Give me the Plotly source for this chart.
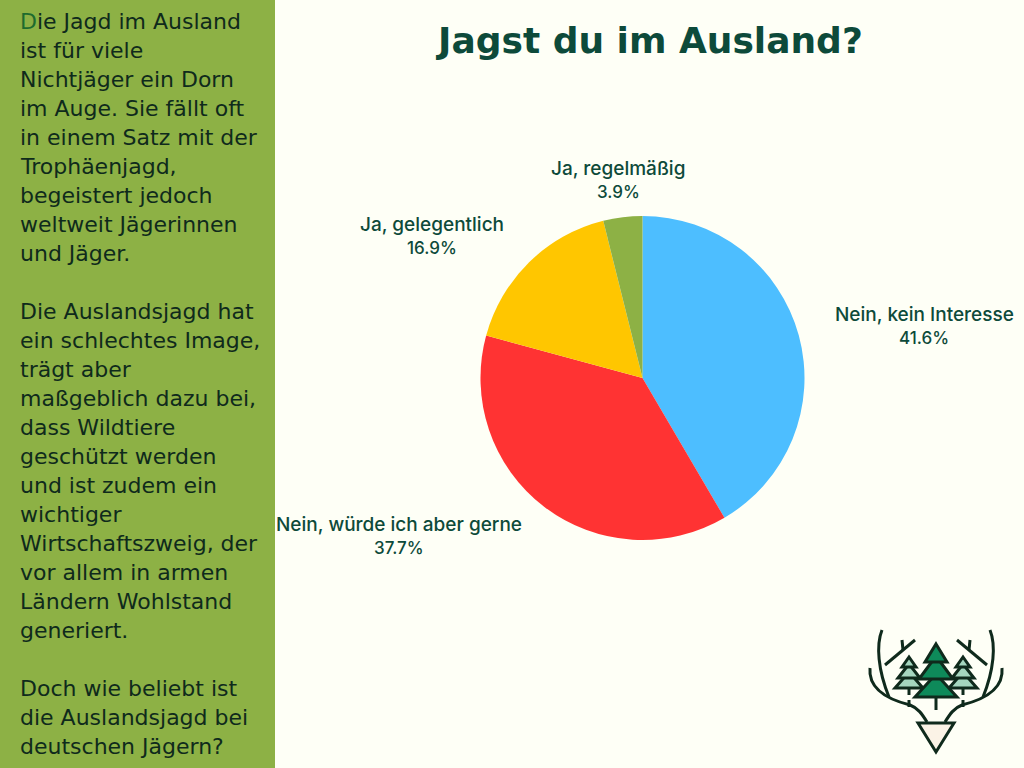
import plotly.graph_objects as go

W = 1024
H = 768

# Werte aus dem Bild
labels = ["Nein, kein Interesse", "Nein, würde ich aber gerne", "Ja, gelegentlich", "Ja, regelmäßig"]
values = [41.6, 37.7, 16.9, 3.9]
colors = ["#4DBEFF", "#FF3333", "#FFC600", "#8DB145"]
label_x = [924, 399, 432, 618]
label_y = [314, 524, 224, 168]

title = "Jagst du im Ausland?"
side_lines = [
    "<span style='color:#1E6B2E'>D</span>ie Jagd im Ausland", "ist für viele", "Nichtjäger ein Dorn",
    "im Auge. Sie fällt oft", "in einem Satz mit der", "Trophäenjagd,", "begeistert jedoch",
    "weltweit Jägerinnen", "und Jäger.", "",
    "Die Auslandsjagd hat", "ein schlechtes Image,", "trägt aber", "maßgeblich dazu bei,",
    "dass Wildtiere", "geschützt werden", "und ist zudem ein", "wichtiger",
    "Wirtschaftszweig, der", "vor allem in armen", "Ländern Wohlstand", "generiert.", "",
    "Doch wie beliebt ist", "die Auslandsjagd bei", "deutschen Jägern?",
]

BG = "#FEFFF6"
GREEN = "#8DB145"
DARK = "#0D4A3A"
INK = "#0F2A1C"
FONT = "DejaVu Sans"


def px(x):
    return x / W


def py(y):
    return 1 - y / H


def path(points, close=False):
    # Punkte in Pixeln -> SVG-Pfad in paper-Koordinaten
    out = []
    for cmd, *pts in points:
        out.append(cmd + " ".join(f"{px(a):.5f},{py(b):.5f}" for a, b in pts))
    return " ".join(out) + (" Z" if close else "")


def tri(x, top, half, base):
    return path([("M", (x, top)), ("L", (x + half, base)), ("L", (x - half, base))], close=True)


fig = go.Figure()
fig.add_trace(go.Pie(
    labels=labels, values=values, sort=False, direction="clockwise", rotation=0,
    marker=dict(colors=colors, line=dict(width=0)),
    textinfo="none", showlegend=False,
    domain=dict(x=[480.5 / W, 804.5 / W], y=[1 - 540 / H, 1 - 216 / H]),
))

shapes = [dict(type="rect", xref="paper", yref="paper", x0=0, x1=275 / W, y0=0, y1=1,
               fillcolor=GREEN, line=dict(width=0), layer="below")]


def add(p, fill="rgba(0,0,0,0)", lw=3):
    shapes.append(dict(type="path", xref="paper", yref="paper", path=p, fillcolor=fill,
                       line=dict(color=INK, width=lw)))


# Geweih, beide Seiten gespiegelt um x=936
for s in (-1, 1):
    mx = lambda d: 936 + s * d
    add(path([("M", (mx(66), 668)), ("C", (mx(68), 690), (mx(46), 700), (mx(26), 705)),
              ("C", (mx(18), 708), (mx(14), 714), (mx(9), 722))]))
    add(path([("M", (mx(54), 630)), ("C", (mx(60), 645), (mx(58), 670), (mx(47), 697))]))
    add(path([("M", (mx(51), 665)), ("L", (mx(21), 640))]))
    add(path([("M", (mx(34), 640)), ("L", (mx(33), 650))]))
    # Seitenbaum
    x = mx(27)
    add(path([("M", (x, 688)), ("L", (x, 695))]))
    add(path([("M", (x, 700)), ("L", (x, 707))]))
    add(tri(x, 672, 14, 688), fill="#A5D6BF")
    add(tri(x, 664, 11, 678), fill="#A5D6BF")
    add(tri(x, 657, 7, 667), fill="#A5D6BF")

# Grosser Baum
add(path([("M", (936, 696)), ("L", (936, 710))]))
add(tri(936, 674, 21, 697), fill="#0E8A5A")
add(tri(936, 656, 17, 679), fill="#0E8A5A")
add(tri(936, 644, 11, 662), fill="#0E8A5A")
# Kopf
add(path([("M", (918, 723)), ("L", (954, 723)), ("L", (936, 752))], close=True), fill="#FBF3E6")

anns = [dict(text=title, x=649 / W, y=py(41), xref="paper", yref="paper", showarrow=False,
             xanchor="center", yanchor="middle",
             font=dict(family=FONT, size=36, color=DARK, weight=700))]

for t, v, x, y in zip(labels, values, label_x, label_y):
    for txt, yy, size in ((t, y, 19), (f"{v}%", y + 24, 17)):
        anns.append(dict(text=txt, x=px(x), y=py(yy), xref="paper", yref="paper", showarrow=False,
                         xanchor="center", yanchor="middle",
                         font=dict(family="Inter", size=size, color=DARK, weight=500)))

for i, line in enumerate(side_lines):
    if line:
        anns.append(dict(text=line, x=px(18), y=py(21.5 + 29 * i), xref="paper", yref="paper",
                         showarrow=False, xanchor="left", yanchor="middle",
                         font=dict(family=FONT, size=22, color=INK)))

fig.update_layout(width=W, height=H, margin=dict(l=0, r=0, t=0, b=0),
                  paper_bgcolor=BG, plot_bgcolor=BG, shapes=shapes, annotations=anns)
fig.write_html("out.html", config=dict(displayModeBar=False),
               post_script="document.body.style.margin='0';")
